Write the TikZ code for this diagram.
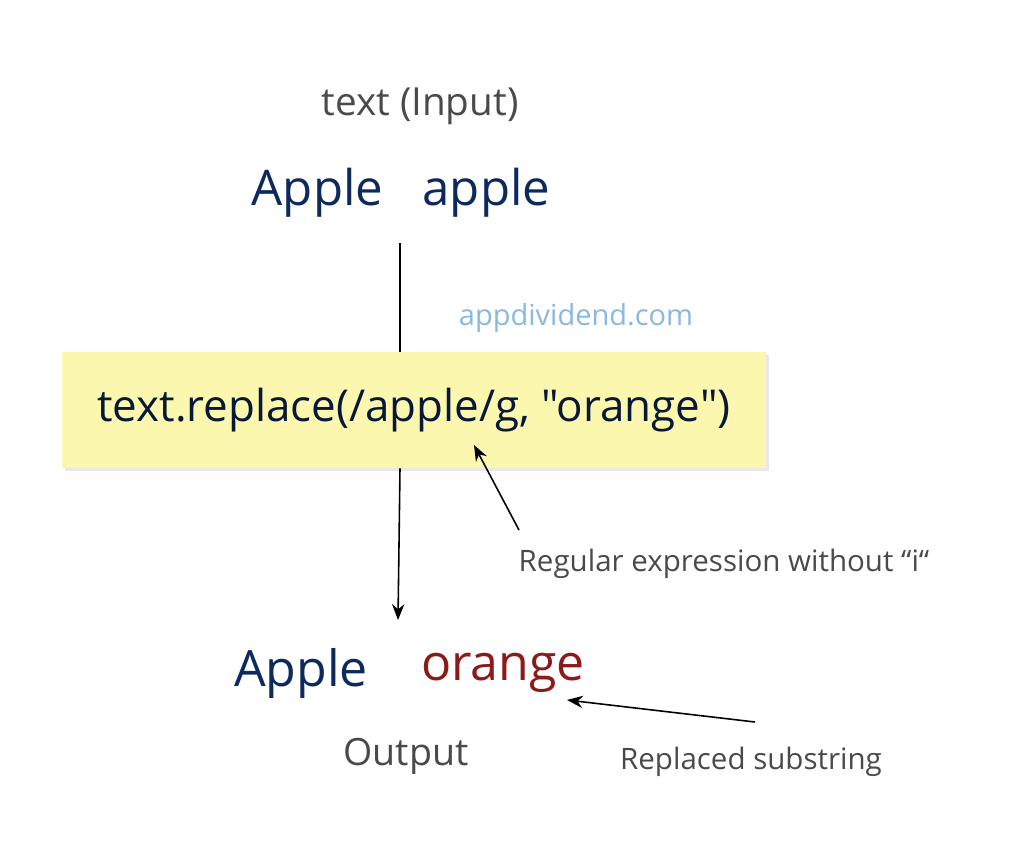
\documentclass[tikz,border=0pt]{standalone}
\usepackage{fontspec}
\setmainfont{Open Sans}
\newfontfamily\rawfont{Open Sans}[Ligatures=TeXOff]
\usetikzlibrary{arrows.meta,shadows}
\definecolor{dblue}{HTML}{0D2A5C}
\definecolor{dred}{HTML}{8B1A1A}
\definecolor{gtext}{HTML}{4A4A4A}
\definecolor{lblue}{HTML}{8AB8E0}
\definecolor{yel}{HTML}{FBF7AE}
\tikzset{
  lbl/.style={text=gtext,inner sep=0pt},
  arr/.style={-{Stealth[length=9pt,width=7pt]},line width=0.9pt,black},
}
\begin{document}
\begin{tikzpicture}[x=0.02cm,y=-0.02cm]
\useasboundingbox (0,0) rectangle (1024,856);
\node[lbl,font=\fontsize{22}{26}\selectfont] (inp) at (420,106) {text (Input)};
\node[inner sep=0pt,text=dblue,font=\fontsize{28}{32}\selectfont] (in) at (401,193) {Apple\hspace{0.8em}apple};
\node[inner sep=0pt,text=lblue,font=\fontsize{16.5}{19}\selectfont] (wm) at (576,318) {appdividend.com};
\node[fill=yel,minimum width=704*0.02cm,minimum height=116*0.02cm,drop shadow={opacity=0.18,shadow xshift=1.5pt,shadow yshift=-1.5pt},text=dblue!60!black,font=\rawfont\fontsize{25}{29}\selectfont] (box) at (414,410) {\raisebox{-2pt}{text.replace(/apple/g, "orange")}};
\coordinate (top) at (400,243);
\draw[line width=0.9pt] (top) -- (400,352);
\coordinate (ot) at (398,620);
\draw[arr] (400,410|-box.south) -- (ot);
\node[lbl,font=\fontsize{16.8}{20}\selectfont] (re) at (724,564) {Regular expression without “i“};
\coordinate (ra) at (519,530);
\coordinate (rb) at (474,445);
\draw[arr] (ra) -- (rb);
\node[inner sep=0pt,text=dblue,font=\fontsize{28.5}{32}\selectfont] (oa) at (301,673) {Apple};
\node[inner sep=0pt,text=dred,font=\fontsize{28.5}{32}\selectfont] (oo) at (503,673) {orange};
\node[lbl,font=\fontsize{21.4}{25}\selectfont] (out) at (406,756) {Output};
\node[lbl,font=\fontsize{16.8}{20}\selectfont] (rs) at (751,762) {Replaced substring};
\coordinate (sa) at (755,722);
\coordinate (sb) at (567,700);
\draw[arr] (sa) -- (sb);
\end{tikzpicture}
\end{document}
